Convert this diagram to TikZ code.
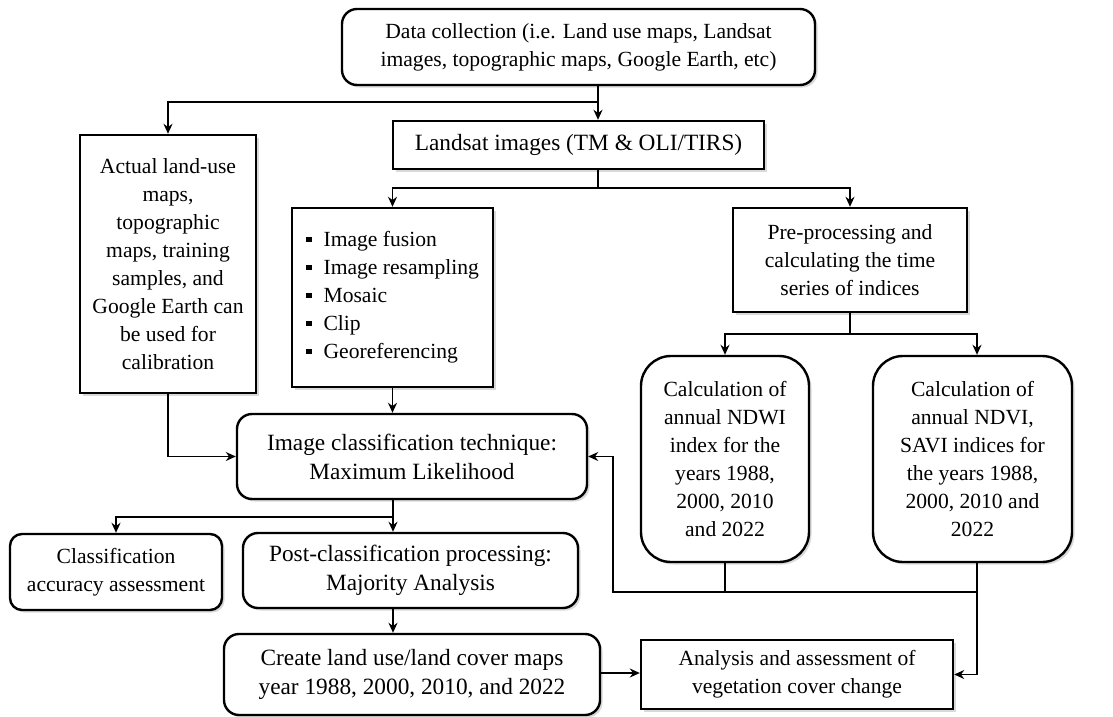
\documentclass[tikz,border=0pt]{standalone}
\usepackage{fontspec}
\setmainfont{Liberation Serif}
\usetikzlibrary{arrows.meta,shadows}
\begin{document}
\begin{tikzpicture}[x=1pt,y=-1pt,
  box/.style={draw=black,line width=2.4pt,fill=white,inner sep=0pt,align=center,
    font=\fontsize{21.6}{28}\selectfont,
    drop shadow={shadow xshift=2.5pt,shadow yshift=-2.5pt,opacity=0.3,fill=gray}},
  big/.style={font=\fontsize{23.3}{29}\selectfont},
  rbox/.style={box,rounded corners=15pt},
  conn/.style={line width=1.8pt},
  arr/.style={conn,-{Stealth[length=10pt,width=9pt]}}]
\useasboundingbox (0,0) rectangle (1113,717);
\newcommand{\blt}{\rule[0.22em]{5.5pt}{5.5pt}\hspace{12pt}}
\node[rbox,minimum width=473,minimum height=76] (top) at (578.5,47)
  {Data collection (i.e. Land use maps, Landsat\\images, topographic maps, Google Earth, etc)};
\node[box,big,minimum width=371,minimum height=48] (land) at (578.5,145)
  {Landsat images (TM \& OLI/TIRS)};
\node[box,minimum width=176,minimum height=258] (act) at (168,264)
  {Actual land-use\\maps,\\topographic\\maps, training\\samples, and\\Google Earth can\\be used for\\calibration};
\node[box,minimum width=201,minimum height=179,align=left] (list) at (392.5,297.5)
  {\blt Image fusion\\\blt Image resampling\\\blt Mosaic\\\blt Clip\\\blt Georeferencing};
\node[box,minimum width=234,minimum height=104] (pre) at (850,260)
  {Pre-processing and\\calculating the time\\series of indices};
\node[box,rounded corners=30pt,minimum width=168,minimum height=206] (ndwi) at (725,459)
  {Calculation of\\annual NDWI\\index for the\\years 1988,\\2000, 2010\\and 2022};
\node[box,rounded corners=30pt,minimum width=199,minimum height=206] (ndvi) at (972.5,459)
  {Calculation of\\annual NDVI,\\SAVI indices for\\the years 1988,\\2000, 2010 and\\2022};
\node[rbox,big,minimum width=350,minimum height=85] (cls) at (412,456.5)
  {Image classification technique:\\Maximum Likelihood};
\node[box,rounded corners=12pt,minimum width=212,minimum height=76] (acc) at (116,572)
  {Classification\\accuracy assessment};
\node[rbox,big,minimum width=335,minimum height=75] (post) at (410.5,570.5)
  {Post-classification processing:\\Majority Analysis};
\node[rbox,big,minimum width=376,minimum height=81] (cre) at (412,674.5)
  {Create land use/land cover maps\\year 1988, 2000, 2010, and 2022};
\node[box,minimum width=312,minimum height=69] (ana) at (797,674.5)
  {Analysis and assessment of\\vegetation cover change};
% connectors
\coordinate (j1) at (598,102);
\draw[arr] (top.south -| j1) -- (land.north -| j1);
\draw[arr] (j1) -| (act.north);
\coordinate (j2) at (598,188);
\draw[conn] (land.south -| j2) -- (j2);
\draw[arr] (j2) -| (list.north);
\draw[arr] (j2) -| (pre.north);
\coordinate (j3) at (850,334);
\draw[conn] (pre.south) -- (j3);
\draw[arr] (j3) -| (ndwi.north);
\coordinate (nx) at (977,334);
\draw[arr] (j3) -- (nx) -- (ndvi.north -| nx);
\coordinate (j4) at (977,592);
\coordinate (j5) at (613,592);
\draw[conn] (ndwi.south) -- (ndwi.south |- j4);
\draw[conn] (ndvi.south -| j4) -- (j4);
\draw[arr] (j4) -- (j5) |- (cls.east);
\draw[arr] (j4) |- (ana.east);
\draw[arr] (list.south) -- (list.south |- cls.north);
\draw[arr] (act.south) |- (cls.west);
\coordinate (j6) at (393,517);
\draw[conn] (cls.south -| j6) -- (j6);
\draw[arr] (j6) -| (acc.north);
\draw[arr] (j6) -- (post.north -| j6);
\draw[arr] (post.south -| j6) -- (cre.north -| j6);
\draw[arr] (cre.east |- 0,673) -- (ana.west |- 0,673);
\end{tikzpicture}
\end{document}
